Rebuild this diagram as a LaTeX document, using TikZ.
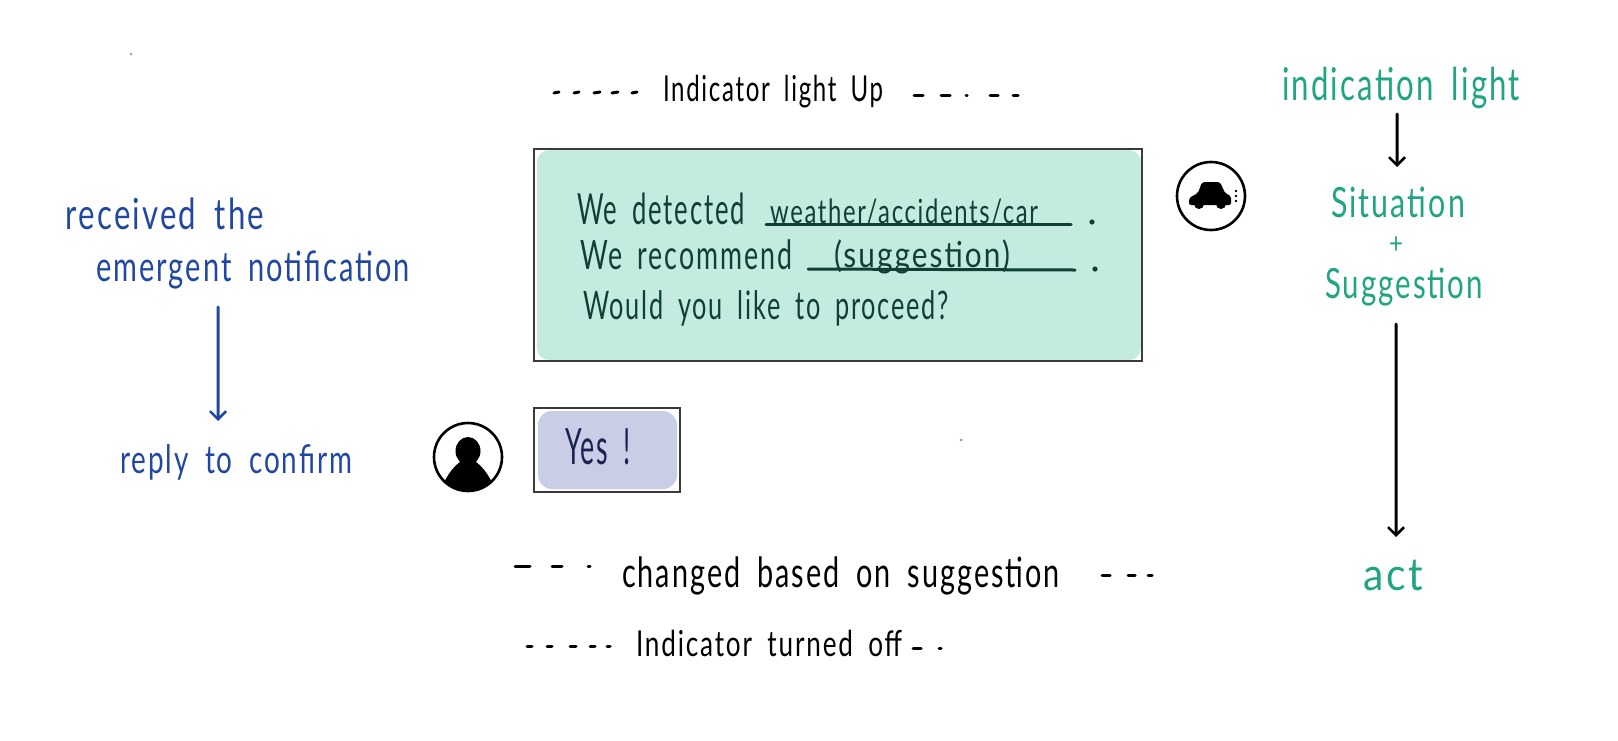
\documentclass[tikz,border=0pt]{standalone}
\usepackage{fontspec}
\setmainfont{Lato}[LetterSpace=7,WordSpace=1.8]
\usetikzlibrary{arrows.meta}
\definecolor{boxgreen}{HTML}{C3EBE0}
\definecolor{boxpurple}{HTML}{C9CEE6}
\definecolor{inkblue}{HTML}{2148A0}
\definecolor{inkteal}{HTML}{1FA583}
\definecolor{inkdark}{HTML}{0F3F35}
\definecolor{inknavy}{HTML}{1A2350}
\definecolor{frame}{HTML}{3A3A3A}
\newcommand{\fitw}[3]{\resizebox{#1pt}{#2pt}{\strut #3}}
\tikzset{
  lbl/.style={inner sep=0pt,outer sep=0pt,anchor=west,yshift=-9pt},
  blue/.style={lbl,text=inkblue},
  teal/.style={lbl,text=inkteal},
  ink/.style={lbl,text=black},
  dark/.style={lbl,text=inkdark},
  dashmark/.style={line width=3pt,line cap=round,black},
  frameline/.style={draw=frame,line width=2.2pt},
  arr/.style={line width=3pt,line cap=round,-{Straight Barb[length=8pt,width=16pt,line width=2.6pt]}},
  rule/.style={line width=3pt,inkdark,line cap=round},
  badge/.style={circle,draw=black,line width=2.6pt,minimum size=68pt,inner sep=0pt,fill=white},
}
\begin{document}
\begin{tikzpicture}[x=1pt,y=-1pt]
\useasboundingbox (0,0) rectangle (1618,740);
\fill[white] (0,0) rectangle (1618,740);
% specks
\fill[gray!70] (131,54) circle (1.5pt);
\fill[gray!80] (961,440) circle (1.5pt);
% top label
\node[ink] (up) at (663,84) {\fitw{220}{30}{Indicator light Up}};
\foreach \a/\b in {554/559,574/579,594/600,612/618,632/637}{\draw[dashmark] (\a,93) -- (\b,92);}
\foreach \a/\b in {914/923,941/950,966/967,990/998,1013/1018}{\draw[dashmark] (\a,95) -- (\b,95);}
% green box
\fill[boxgreen,rounded corners=12pt] (537,150) rectangle (1141,360);
\draw[frameline] (534,149) rectangle (1142,361);
\node[dark] (detected) at (577,205) {\fitw{168}{36}{We detected}};
\node[dark] (cause) at (770,206) {\fitw{268}{28}{weather/accidents/car}};
\draw[rule] (766,224) -- (1071,224);
\fill[inkdark] (1092,222) circle (2.6pt);
\node[dark] (recommend) at (580,251) {\fitw{212}{34}{We recommend}};
\node[dark] (suggest) at (834,250) {\fitw{176}{30}{(suggestion)}};
\draw[rule] (808,269) -- (1075,270);
\fill[inkdark] (1095,269) circle (2.6pt);
\node[dark] (proceed) at (583,301) {\fitw{366}{33}{Would you like to proceed?}};
% car badge
\node[badge] (carbadge) at (1211,196) {};
\fill[black,rounded corners=2pt] (1189,198) -- (1198,193) -- (1202,182) -- (1220,182) -- (1225,193) -- (1231,196) -- (1231,205) -- (1189,205) -- cycle;
\fill[black] (1199,204) circle (5pt) (1221,204) circle (5pt);
\fill[black] (1236,191) circle (1.4pt) (1236,196) circle (1.4pt) (1236,201) circle (1.4pt);
% yes box
\fill[boxpurple,rounded corners=14pt] (538,411) rectangle (677,489);
\draw[frameline] (534,408) rectangle (680,492);
\node[lbl,text=inknavy] (yes) at (565,443) {\fitw{66}{42}{Yes !}};
% person badge
\node[badge] (person) at (468,457) {};
\begin{scope}
\clip (468,457) circle (34pt);
\fill[black] (468,451) ellipse (12.5pt and 14pt);
\fill[black] (438,495) .. controls (448,472) and (456,462) .. (468,458) .. controls (480,462) and (488,472) .. (498,495) -- cycle;
\end{scope}
% bottom labels
\node[ink] (changed) at (622,568) {\fitw{438}{35}{changed based on suggestion}};
\foreach \a/\b in {515/530,552/562,588/590}{\draw[dashmark] (\a,566) -- (\b,566);}
\foreach \a/\b in {1102/1110,1128/1135,1148/1152}{\draw[dashmark] (\a,575) -- (\b,575);}
\node[ink] (off) at (636,639) {\fitw{266}{30}{Indicator turned off}};
\foreach \a/\b in {527/532,547/552,570/576,590/595,607/610}{\draw[dashmark] (\a,646) -- (\b,646);}
\foreach \a/\b in {913/921,939/941}{\draw[dashmark] (\a,648) -- (\b,648);}
% left flow
\node[blue] (received) at (66,210) {\fitw{198}{36}{received the}};
\node[blue] (notif) at (96,262) {\fitw{314}{35}{emergent notification}};
\node[blue] (reply) at (120,455) {\fitw{232}{33}{reply to confirm}};
\draw[arr,inkblue] ([xshift=-35pt,yshift=-36pt]notif.center) -- ([xshift=-18pt,yshift=43pt]reply.center);
% right flow
\node[teal] (light) at (1282,81) {\fitw{238}{38}{indication light}};
\node[teal] (situation) at (1331,198) {\fitw{134}{35}{Situation}};
\node[teal] (plus) at (1389,238) {\fitw{14}{24}{+}};
\node[teal] (suggestion) at (1325,279) {\fitw{158}{35}{Suggestion}};
\node[teal] (act) at (1363,571) {\fitw{60}{38}{act}};
\draw[arr,black] ([xshift=-4pt,yshift=-24pt]light.center) -- ([xshift=-1pt,yshift=40pt]situation.center);
\draw[arr,black] ([xshift=-8pt,yshift=-36pt]suggestion.center) -- ([xshift=3pt,yshift=43pt]act.center);
\end{tikzpicture}
\end{document}
